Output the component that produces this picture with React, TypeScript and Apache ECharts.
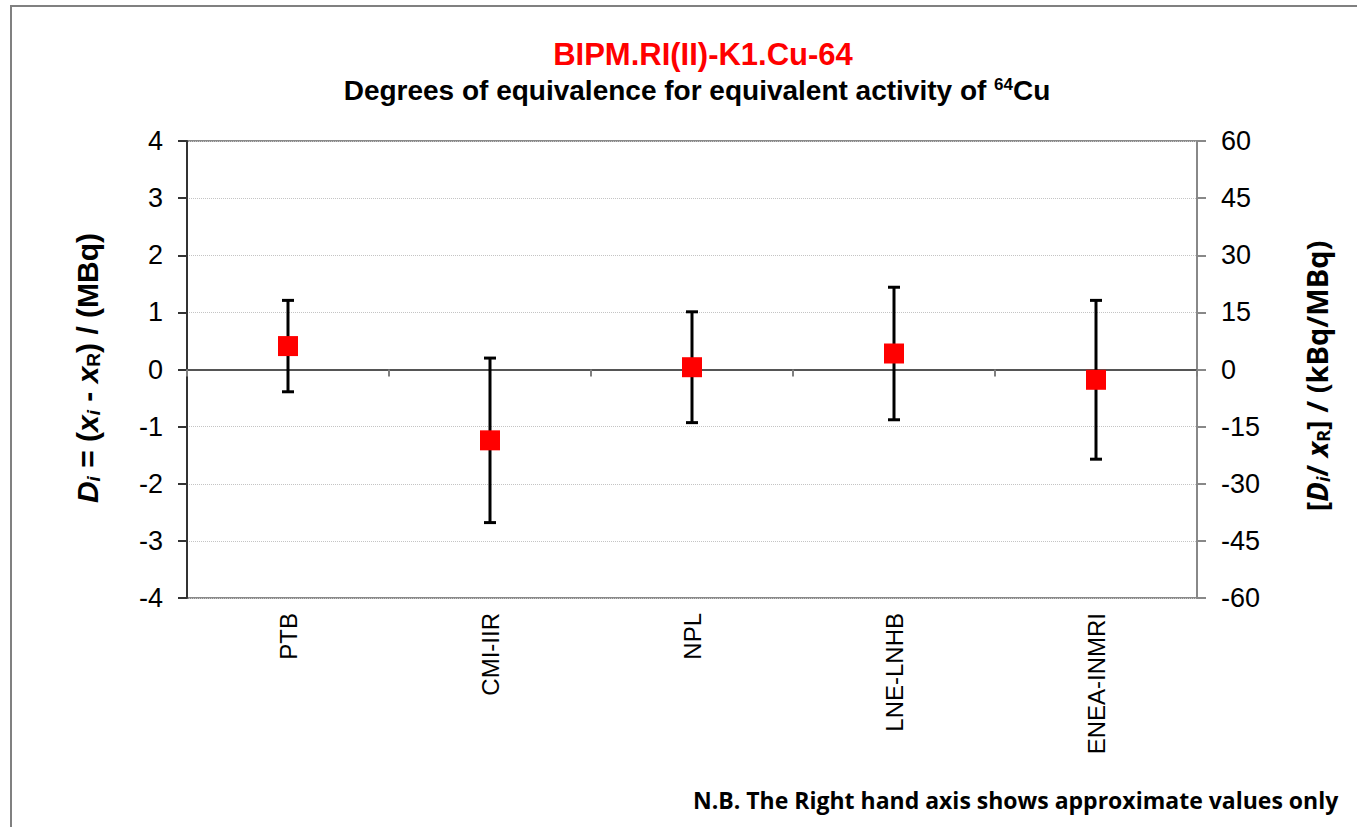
import React, { useEffect, useRef } from "react";
import * as echarts from "echarts";

const categories = ["PTB", "CMI-IIR", "NPL", "LNE-LNHB", "ENEA-INMRI"];
const degrees = [0.41, -1.24, 0.04, 0.28, -0.18];
const expandedU = [0.8, 1.44, 0.97, 1.16, 1.39];
const leftAxis = { min: -4, max: 4, interval: 1 };
const rightAxis = { min: -60, max: 60, interval: 15 };

const FONT = "'Liberation Sans', Arial, sans-serif";
const FONT2 = "'Open Sans', 'Noto Sans', sans-serif";

export default function App() {
  const ref = useRef<HTMLDivElement>(null);
  useEffect(() => {
    const chart = echarts.init(ref.current!, null, { renderer: "svg" });
    const errData = categories.map((c, i) => [i, degrees[i] - expandedU[i], degrees[i] + expandedU[i]]);
    const ptData = categories.map((c, i) => [i, degrees[i]]);
    chart.setOption({
      animation: false,
      backgroundColor: "#fff",
      grid: {
        left: 187,
        right: 160,
        top: 141,
        bottom: 229,
        show: true,
        borderColor: "#8a8a8a",
        borderWidth: 2,
        backgroundColor: "transparent",
      },
      xAxis: [
        {
          type: "category",
          data: categories,
          position: "top",
          boundaryGap: true,
          axisLine: { show: true, onZero: true, onZeroAxisIndex: 0, lineStyle: { color: "#555", width: 2 } },
          axisTick: { show: true, inside: true, length: 7, lineStyle: { color: "#808080", width: 2 } },
          axisLabel: { show: false },
          splitLine: { show: false },
        },
        {
          type: "category",
          data: categories,
          position: "bottom",
          boundaryGap: true,
          axisLine: { show: false, onZero: false },
          axisTick: { show: false },
          axisLabel: { show: true, rotate: 90, margin: 15, fontSize: 24, color: "#000", fontFamily: FONT },
          splitLine: { show: false },
        },
      ],
      yAxis: [
        {
          type: "value",
          min: leftAxis.min,
          max: leftAxis.max,
          interval: leftAxis.interval,
          position: "left",
          axisLine: { show: true, onZero: false, lineStyle: { color: "#333", width: 2 } },
          axisTick: { show: true, length: 9, lineStyle: { color: "#333", width: 2 } },
          axisLabel: { fontSize: 27, color: "#000", margin: 24, fontFamily: FONT },
          splitLine: { show: true, lineStyle: { color: "#c4c4c4", type: "dotted", width: 1 } },
        },
        {
          type: "value",
          min: rightAxis.min,
          max: rightAxis.max,
          interval: rightAxis.interval,
          position: "right",
          axisLine: { show: true, onZero: false, lineStyle: { color: "#888", width: 2 } },
          axisTick: { show: true, length: 9, lineStyle: { color: "#888", width: 2 } },
          axisLabel: { fontSize: 27, color: "#000", margin: 24, fontFamily: FONT },
          splitLine: { show: false },
        },
      ],
      series: [
        {
          type: "custom",
          xAxisIndex: 0,
          yAxisIndex: 0,
          data: errData,
          encode: { x: 0, y: [1, 2] },
          z: 2,
          renderItem: (params: any, api: any) => {
            const i = api.value(0);
            const top = api.coord([i, api.value(2)]);
            const bot = api.coord([i, api.value(1)]);
            const w = 6;
            const st = { stroke: "#000", lineWidth: 3 };
            return {
              type: "group",
              children: [
                { type: "line", shape: { x1: top[0], y1: top[1], x2: bot[0], y2: bot[1] }, style: st },
                { type: "line", shape: { x1: top[0] - w, y1: top[1], x2: top[0] + w, y2: top[1] }, style: st },
                { type: "line", shape: { x1: bot[0] - w, y1: bot[1], x2: bot[0] + w, y2: bot[1] }, style: st },
              ],
            };
          },
        },
        {
          type: "scatter",
          xAxisIndex: 0,
          yAxisIndex: 0,
          data: ptData,
          symbol: "rect",
          symbolSize: 20,
          itemStyle: { color: "#ff0000", opacity: 1 },
          z: 5,
        },
      ],
      graphic: [
        {
          type: "rect",
          shape: { x: 11, y: 6, width: 1500, height: 1000 },
          style: { fill: "none", stroke: "#808080", lineWidth: 2 },
          z: 0,
        },
        {
          type: "text",
          x: 703,
          y: 54,
          style: {
            text: "BIPM.RI(II)-K1.Cu-64",
            fill: "#ff0000",
            font: `bold 31px ${FONT}`,
            align: "center",
            verticalAlign: "middle",
          },
        },
        {
          type: "text",
          x: 697,
          y: 90,
          style: {
            text: "{m|Degrees of equivalence for equivalent activity of }{s|64}{m|Cu}",
            align: "center",
            verticalAlign: "middle",
            rich: {
              m: { fontSize: 28, fontWeight: "bold", fontFamily: FONT, fill: "#000" },
              s: { fontSize: 17, fontWeight: "bold", fontFamily: FONT, fill: "#000", padding: [0, 0, 12, 0] },
            },
          },
        },
        {
          type: "text",
          x: 87,
          y: 368,
          rotation: Math.PI / 2,
          style: {
            text: "{i|D}{si|i}{m| = (}{i|x}{si|i}{m| - }{i|x}{s|R}{m|) / (MBq)}",
            align: "center",
            verticalAlign: "middle",
            rich: {
              m: { fontSize: 30, fontWeight: "bold", fontFamily: FONT, fill: "#000" },
              i: { fontSize: 30, fontWeight: "bold", fontStyle: "italic", fontFamily: FONT, fill: "#000" },
              si: { fontSize: 19, fontWeight: "bold", fontStyle: "italic", fontFamily: FONT, fill: "#000", padding: [13, 0, 0, 0] },
              s: { fontSize: 19, fontWeight: "bold", fontFamily: FONT, fill: "#000", padding: [13, 0, 0, 0] },
            },
          },
        },
        {
          type: "text",
          x: 1316,
          y: 376,
          rotation: Math.PI / 2,
          style: {
            text: "{m|[}{i|D}{si|i}{m|/ }{i|x}{s|R}{m|] / (kBq/MBq)}",
            align: "center",
            verticalAlign: "middle",
            rich: {
              m: { fontSize: 29, fontWeight: "bold", fontFamily: FONT2, fill: "#000" },
              i: { fontSize: 29, fontWeight: "bold", fontStyle: "italic", fontFamily: FONT2, fill: "#000" },
              si: { fontSize: 18, fontWeight: "bold", fontStyle: "italic", fontFamily: FONT2, fill: "#000", padding: [13, 0, 0, 0] },
              s: { fontSize: 18, fontWeight: "bold", fontFamily: FONT2, fill: "#000", padding: [13, 0, 0, 0] },
            },
          },
        },
        {
          type: "text",
          x: 693,
          y: 800,
          style: {
            text: "N.B. The Right hand axis shows approximate values only",
            fill: "#000",
            font: `bold 23px ${FONT2}`,
            align: "left",
            verticalAlign: "middle",
          },
        },
      ],
    });
    return () => chart.dispose();
  }, []);
  return (
    <div
      ref={ref}
      style={{ position: "fixed", left: 0, top: 0, width: 1357, height: 827 }}
    />
  );
}
